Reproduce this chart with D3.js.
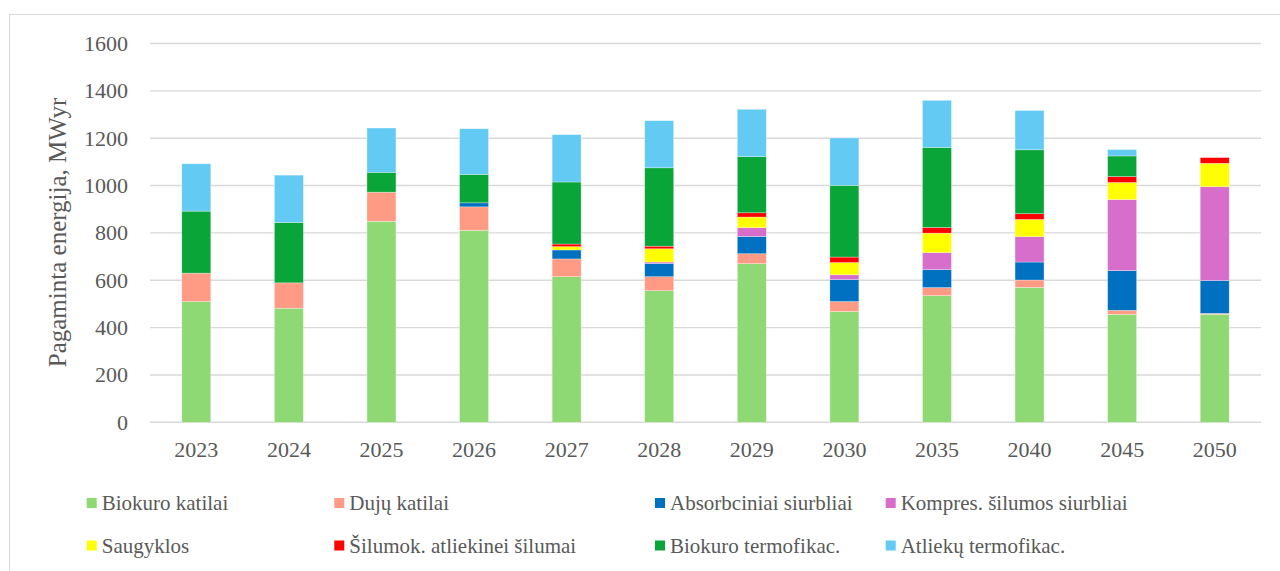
<!DOCTYPE html>
<html>
<head>
<meta charset="utf-8">
<script src="https://cdn.jsdelivr.net/npm/d3@7"></script>
<style>
  html, body { margin: 0; padding: 0; background: #fff; }
  svg { display: block; font-family: 'Liberation Serif', 'Times New Roman', serif; }
</style>
</head>
<body>
<svg id="chart" width="1280" height="571"></svg>
<script>
// Years on the category axis
const years = ["2023", "2024", "2025", "2026", "2027", "2028", "2029", "2030", "2035", "2040", "2045", "2050"];

// Produced energy by source, MWyr (stacked bottom to top)
const biokuroKatilai     = [510, 482, 849, 811, 615, 556, 670, 468, 535, 570, 456, 456];
const dujuKatilai        = [120, 107, 123,  99,  75,  59,  42,  42,  34,  31,  17,   4];
const absorbciniai       = [  0,   0,   0,  17,  38,  56,  73,  93,  76,  76, 168, 139];
const kompresSiurbliai   = [  0,   0,   0,   0,   0,   6,  37,  20,  72, 107, 300, 396];
const saugyklos          = [  0,   0,   0,   0,  14,  56,  45,  52,  82,  73,  72,  99];
const silumokAtliekinei  = [  0,   0,   0,   0,  11,  11,  18,  23,  24,  24,  25,  24];
const biokuroTermofikac  = [262, 255,  84, 120, 262, 331, 237, 303, 338, 270,  87,   0];
const atliekuTermofikac  = [200, 200, 187, 193, 200, 199, 200, 200, 199, 166,  27,   0];

const seriesNames = [
  "Biokuro katilai", "Dujų katilai", "Absorbciniai siurbliai", "Kompres. šilumos siurbliai",
  "Saugyklos", "Šilumok. atliekinei šilumai", "Biokuro termofikac.", "Atliekų termofikac."
];
const seriesValues = [
  biokuroKatilai, dujuKatilai, absorbciniai, kompresSiurbliai,
  saugyklos, silumokAtliekinei, biokuroTermofikac, atliekuTermofikac
];
const seriesColors = ["#8fd974", "#ff9b85", "#0070c0", "#d86ecc", "#ffff00", "#ff0000", "#0aa539", "#63cbf3"];

const yTicks = [0, 200, 400, 600, 800, 1000, 1200, 1400, 1600];
const yTitle = "Pagaminta energija, MWyr";

const FONT = "'Liberation Serif', 'Times New Roman', serif";
const TEXT_COLOR = "#595959";

const svg = d3.select("#chart");

// Outer chart frame
svg.append("rect")
  .attr("x", 9.5).attr("y", 14.5)
  .attr("width", 1300).attr("height", 600)
  .attr("fill", "none").attr("stroke", "#d9d9d9").attr("stroke-width", 1);

const plot = { left: 150, right: 1261, top: 43.5, bottom: 422.3 };

const x = d3.scaleBand()
  .domain(years)
  .range([plot.left, plot.right])
  .paddingInner(0.687)
  .paddingOuter(0.3435);

const y = d3.scaleLinear()
  .domain([0, 1600])
  .range([plot.bottom, plot.top]);

// Gridlines
svg.append("g")
  .selectAll("line")
  .data(yTicks)
  .join("line")
  .attr("x1", plot.left).attr("x2", plot.right)
  .attr("y1", d => y(d)).attr("y2", d => y(d))
  .attr("stroke", "#d9d9d9").attr("stroke-width", 1.4);

// Y axis labels
const yAxis = svg.append("g")
  .attr("transform", `translate(${plot.left},0)`)
  .call(d3.axisLeft(y).tickValues(yTicks).tickFormat(d3.format("d")).tickSize(0).tickPadding(22));
yAxis.attr("font-family", null).attr("font-size", null);
yAxis.select(".domain").remove();
yAxis.selectAll("text")
  .style("font-family", FONT)
  .style("font-size", "22px")
  .style("fill", TEXT_COLOR);

// X axis labels
const xAxis = svg.append("g")
  .attr("transform", `translate(0,${plot.bottom})`)
  .call(d3.axisBottom(x).tickSize(0).tickPadding(19));
xAxis.attr("font-family", null).attr("font-size", null);
xAxis.select(".domain").remove();
xAxis.selectAll("text")
  .style("font-family", FONT)
  .style("font-size", "22px")
  .style("fill", TEXT_COLOR);

// Stacked bars
const table = years.map((yr, i) => {
  const row = { year: yr };
  seriesNames.forEach((n, k) => { row[n] = seriesValues[k][i]; });
  return row;
});
const stacked = d3.stack().keys(seriesNames)(table);

svg.append("g")
  .selectAll("g")
  .data(stacked)
  .join("g")
  .attr("fill", (d, k) => seriesColors[k])
  .selectAll("rect")
  .data(d => d.filter(s => s[1] - s[0] > 0))
  .join("rect")
  .attr("x", d => x(d.data.year))
  .attr("width", x.bandwidth())
  .attr("y", d => y(d[1]))
  .attr("height", d => y(d[0]) - y(d[1]))
  .attr("stroke", "#ffffff").attr("stroke-opacity", 0.5).attr("stroke-width", 0.6);

// Y axis title
svg.append("text")
  .attr("transform", `translate(66,232.5) rotate(-90)`)
  .attr("text-anchor", "middle")
  .style("font-family", FONT)
  .style("font-size", "25px")
  .style("fill", TEXT_COLOR)
  .text(yTitle);

// Legend
const legendCols = [86.7, 334.3, 655, 885.7];
const legendRows = [503, 545.5];
const legend = svg.append("g")
  .selectAll("g")
  .data(seriesNames)
  .join("g")
  .attr("transform", (d, i) => `translate(${legendCols[i % 4]},${legendRows[Math.floor(i / 4)]})`);
legend.append("rect")
  .attr("x", 0).attr("y", -5)
  .attr("width", 10).attr("height", 10)
  .attr("fill", (d, i) => seriesColors[i]);
legend.append("text")
  .attr("x", 15).attr("y", 0)
  .attr("dy", "0.35em")
  .style("font-family", FONT)
  .style("font-size", "21px")
  .style("fill", TEXT_COLOR)
  .text(d => d);
</script>
</body>
</html>
